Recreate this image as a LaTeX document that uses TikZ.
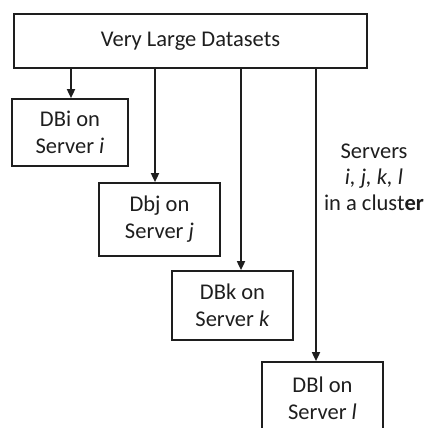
\documentclass[tikz,border=0pt]{standalone}
\usepackage{fontspec}
\setmainfont{Carlito}
\usetikzlibrary{arrows.meta}
\definecolor{ink}{HTML}{1E1E1E}
\begin{document}
\begin{tikzpicture}[x=1pt,y=1pt,
  box/.style={draw=ink, line width=1.7pt, text=ink, align=center, inner sep=0pt,
    font=\fontsize{22.5}{27}\selectfont},
  arr/.style={draw=ink, line width=1.7pt, -{Triangle[width=8pt,length=9pt]}},
  lbl/.style={text=ink, align=center, font=\fontsize{22.5}{26}\selectfont, inner sep=0pt}]
\useasboundingbox (0,0) rectangle (426,-428);
\clip (0,0) rectangle (426,-428);
\node[box, minimum width=353pt, minimum height=54pt] (top) at (190.5,-41) {Very Large Datasets};
\node[box, minimum width=116pt, minimum height=67pt] (i) at (70,-132.5) {DBi on\\Server \textit{i}};
\node[box, minimum width=121pt, minimum height=73pt] (j) at (159.5,-219.5) {Dbj on\\Server \textit{j}};
\node[box, minimum width=121pt, minimum height=69pt] (k) at (232.5,-305.5) {DBk on\\Server \textit{k}};
\node[box, minimum width=121pt, minimum height=72pt] (l) at (322.5,-398) {DBl on\\Server \textit{l}};
\node[lbl] (srv) at (374,-177) {Servers\\\textit{i, j, k, l}\\in a clust\textbf{er}};
\coordinate (xi) at (71,0);
\coordinate (xj) at (155,0);
\coordinate (xk) at (241,0);
\coordinate (xl) at (316,0);
\draw[arr] (top.south -| xi) -- (i.north -| xi);
\draw[arr] (top.south -| xj) -- (j.north -| xj);
\draw[arr] (top.south -| xk) -- (k.north -| xk);
\draw[arr] (top.south -| xl) -- (l.north -| xl);
\end{tikzpicture}
\end{document}
